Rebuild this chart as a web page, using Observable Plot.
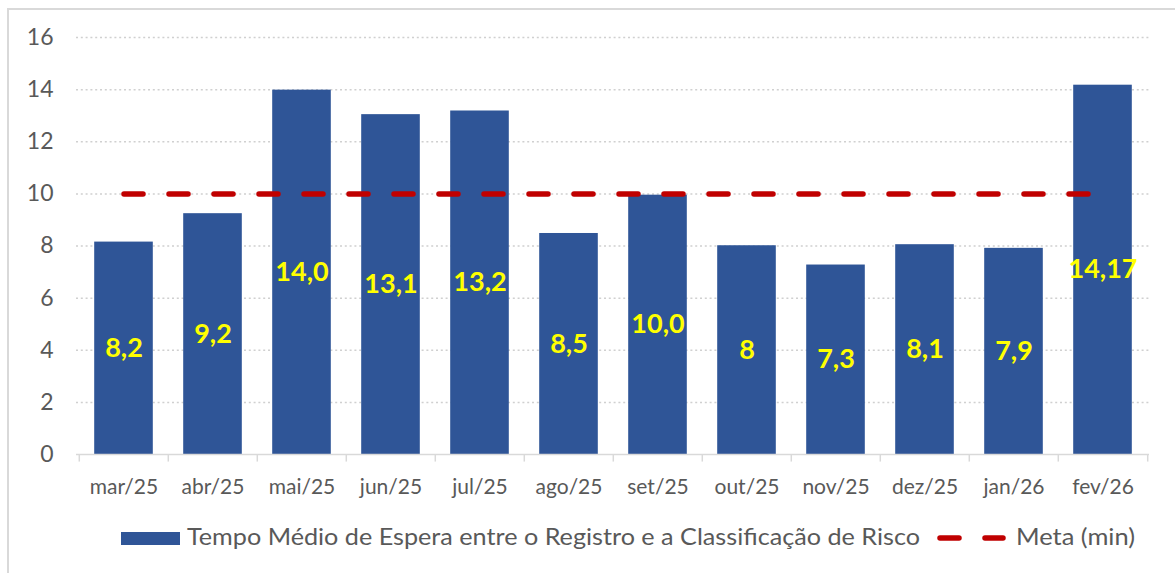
<!DOCTYPE html>
<html><head><meta charset="utf-8">
<script src="https://cdn.jsdelivr.net/npm/d3@7"></script>
<script src="https://cdn.jsdelivr.net/npm/@observablehq/plot@0.6"></script>
<style>
body{margin:0;background:#fff;font-family:Lato,"Open Sans",sans-serif;}
#wrap{position:relative;width:1175px;height:573px;overflow:hidden;background:#fff;}
#frame{position:absolute;left:7px;top:8px;width:1200px;height:600px;border-left:2px solid #D9D9D9;border-top:2px solid #D9D9D9;}
#chart{position:absolute;left:0;top:0;}
#legend{position:absolute;left:0;top:0;}
</style></head>
<body>
<div id="wrap"><div id="frame"></div><div id="chart"></div>
<svg id="legend" width="1175" height="573" xmlns="http://www.w3.org/2000/svg"></svg>
</div>
<script>
const months = ["mar/25","abr/25","mai/25","jun/25","jul/25","ago/25","set/25","out/25","nov/25","dez/25","jan/26","fev/26"];
const values = [8.15, 9.24, 13.98, 13.04, 13.18, 8.48, 9.95, 8.01, 7.27, 8.05, 7.91, 14.17];
const labels = ["8,2","9,2","14,0","13,1","13,2","8,5","10,0","8","7,3","8,1","7,9","14,17"];
const metaValue = 10;
const yTicks = [0, 2, 4, 6, 8, 10, 12, 14, 16];
const gridTicks = [2, 4, 6, 8, 10, 12, 14, 16];
const seriesName = "Tempo Médio de Espera entre o Registro e a Classificação de Risco";
const metaName = "Meta (min)";

const data = months.map((m, i) => ({month: m, value: values[i], label: labels[i]}));

const W = 1175, H = 520, mL = 76, mR = 26, mT = 37, mB = 66;
const bw = (W - mL - mR) / months.length;
const gray = "#595959";

const chart = Plot.plot({
  width: W, height: H,
  marginLeft: mL, marginRight: mR, marginTop: mT, marginBottom: mB,
  style: {fontFamily: "Lato, 'Open Sans', sans-serif", background: "transparent", overflow: "visible"},
  x: {domain: months, padding: 0, label: null},
  y: {domain: [0, 16], label: null},
  marks: [
    Plot.ruleY(gridTicks, {stroke: "#D0D0D0", strokeWidth: 1.5, strokeDasharray: "2,2.8"}),
    Plot.barY(data, {x: "month", y: "value", fill: "#2F5597", insetLeft: 15.2, insetRight: 15.2}),
    Plot.ruleY([0], {stroke: "#D9D9D9", strokeWidth: 1.5}),
    Plot.ruleX(months, {x: d => d, y1: 0, y2: -0.29, dx: -bw / 2, stroke: "#D9D9D9", strokeWidth: 1.5}),
    Plot.ruleX([months[months.length - 1]], {x: d => d, y1: 0, y2: -0.29, dx: bw / 2, stroke: "#D9D9D9", strokeWidth: 1.5}),
    Plot.lineY(months, {x: d => d, y: () => metaValue, stroke: "#C00000", strokeWidth: 5.5, strokeDasharray: "19,26", strokeLinecap: "round"}),
    Plot.text(data, {x: "month", y: d => d.value / 2, text: "label", fill: "#FFFF00", fontSize: 27, fontWeight: "bold"}),
    Plot.axisY({ticks: yTicks, tickSize: 0, tickPadding: 23, fontSize: 23, color: gray, label: null}),
    Plot.axisX({tickSize: 0, tickPadding: 25, fontSize: 21, color: gray, label: null})
  ]
});
document.getElementById("chart").appendChild(chart);

// legend
const lg = d3.select("#legend");
lg.append("rect").attr("x", 121).attr("y", 532).attr("width", 59).attr("height", 13).attr("fill", "#2F5597");
lg.append("text").attr("x", 187).attr("y", 545).attr("font-size", 23).attr("fill", gray)
  .attr("font-family", "Lato, 'Open Sans', sans-serif")
  .attr("textLength", 733).attr("lengthAdjust", "spacingAndGlyphs").text(seriesName);
lg.append("line").attr("x1", 940).attr("x2", 959).attr("y1", 538).attr("y2", 538)
  .attr("stroke", "#C00000").attr("stroke-width", 5.5).attr("stroke-linecap", "round");
lg.append("line").attr("x1", 985).attr("x2", 1003).attr("y1", 538).attr("y2", 538)
  .attr("stroke", "#C00000").attr("stroke-width", 5.5).attr("stroke-linecap", "round");
lg.append("text").attr("x", 1016).attr("y", 545).attr("font-size", 23).attr("fill", gray)
  .attr("font-family", "Lato, 'Open Sans', sans-serif")
  .attr("textLength", 119).attr("lengthAdjust", "spacingAndGlyphs").text(metaName);
</script>
</body></html>
